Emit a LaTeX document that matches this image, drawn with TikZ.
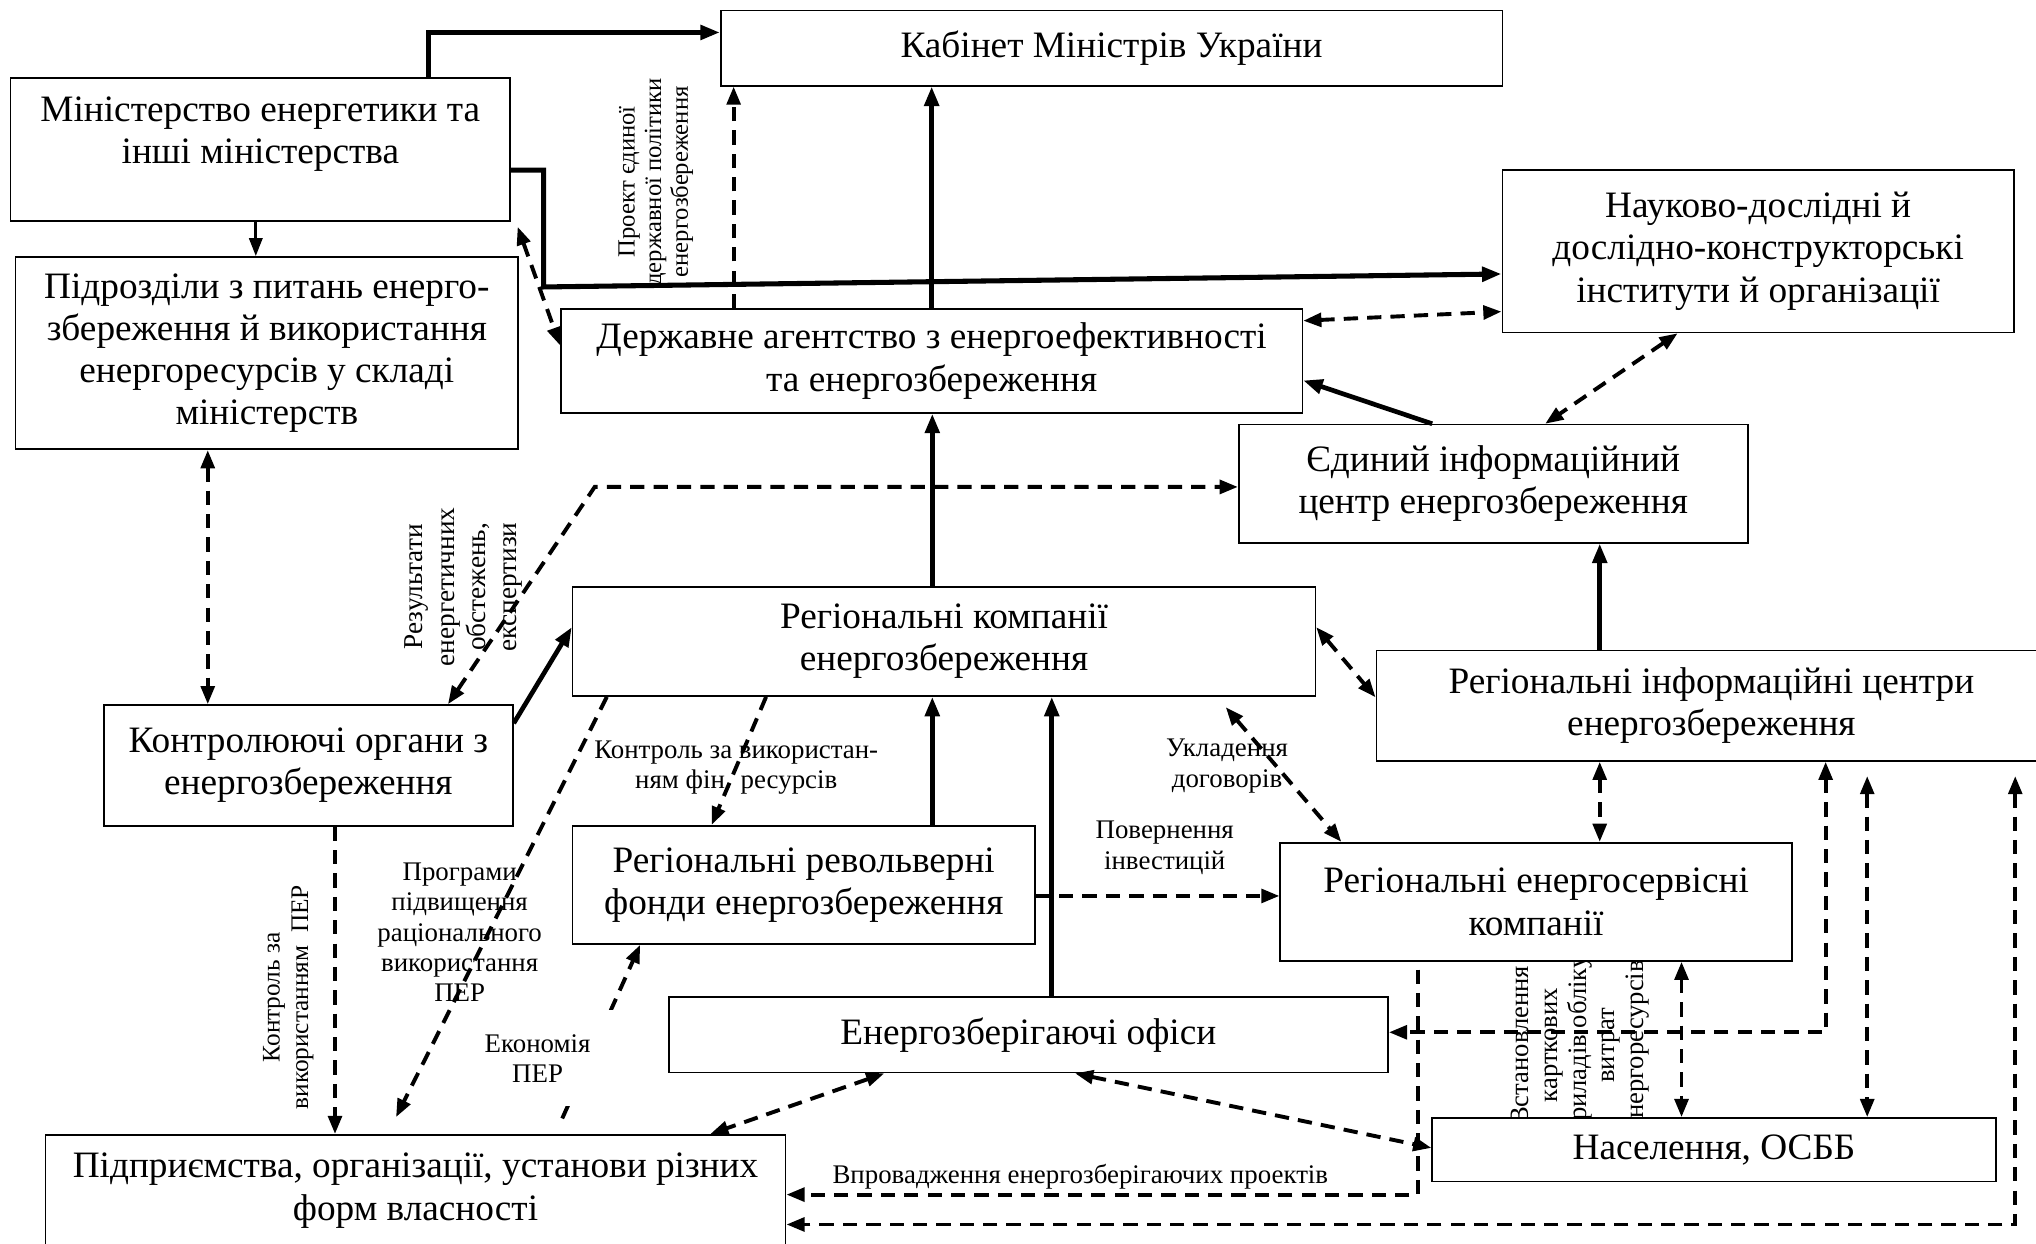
\documentclass[tikz,border=0pt]{standalone}
\usepackage{fontspec}
\setmainfont{Liberation Serif}
\usetikzlibrary{arrows.meta}
\newcommand\myboxfont{\fontsize{28.7}{32.5}\selectfont}
\newcommand\mylblfont{\fontsize{20.7}{23.3}\selectfont}
\begin{document}
\begin{tikzpicture}[x=1pt,y=-1pt,
  box/.style={draw, line width=1.3pt, fill=white, inner sep=0pt, align=center, font=\myboxfont},
  btxt/.style={inner sep=0pt, align=center, font=\myboxfont},
  lbl/.style={inner sep=1pt, align=center, font=\mylblfont},
  sarrow/.style={line width=3.6pt, -{Triangle[length=15pt,width=11pt]}},
  darrow/.style={line width=3pt, dash pattern=on 11pt off 7pt, -{Triangle[length=14pt,width=10.5pt]}},
  dboth/.style={line width=3pt, dash pattern=on 11pt off 7pt, {Triangle[length=14pt,width=10.5pt]}-{Triangle[length=14pt,width=10.5pt]}}
]
\useasboundingbox (0,0) rectangle (1568,958);
\fill[white] (0,0) rectangle (1568,958);

% label partly hidden by boxes
\node[lbl, rotate=90, font=\fontsize{20.5}{22}\selectfont] (lb4) at (1217,805) {Встановлення\\карткових\\приладів обліку\\витрат\\енергоресурсів};

% boxes
\node[box, minimum width=602pt, minimum height=58pt] (kmu) at (856,37) {Кабінет Міністрів України};
\node[box, minimum width=385pt, minimum height=110pt] (min) at (200.5,115) {};
\node[btxt] (minT) at (200.5,103) {Міністерство енергетики та\\інші міністерства};
\node[box, minimum width=387pt, minimum height=148pt] (pidr) at (205.5,272) {Підрозділи з питань енерго-\\збереження й використання\\енергоресурсів у складі\\міністерств};
\node[box, minimum width=571pt, minimum height=80pt] (agency) at (717.5,278) {Державне агентство з енергоефективності\\та енергозбереження};
\node[box, minimum width=394pt, minimum height=125pt] (ndi) at (1354,193.5) {Науково-дослідні й\\дослідно-конструкторські\\інститути й організації};
\node[box, minimum width=392pt, minimum height=91pt] (eic) at (1150,372.5) {Єдиний інформаційний\\центр енергозбереження};
\node[box, minimum width=572pt, minimum height=84pt] (rke) at (727,494) {Регіональні компанії\\енергозбереження};
\node[box, minimum width=516pt, minimum height=85pt] (ric) at (1318,543.5) {Регіональні інформаційні центри\\енергозбереження};
\node[box, minimum width=315pt, minimum height=93pt] (ko) at (237.5,589.5) {Контролюючі органи з\\енергозбереження};
\node[box, minimum width=356pt, minimum height=91pt] (rrf) at (619,681.5) {Регіональні револьверні\\фонди енергозбереження};
\node[box, minimum width=394pt, minimum height=91pt] (res) at (1183,694.5) {Регіональні енергосервісні\\компанії};
\node[box, minimum width=554pt, minimum height=58pt] (eo) at (792,797) {Енергозберігаючі офіси};
\node[box, minimum width=434pt, minimum height=49pt] (nas) at (1320,885.5) {Населення, ОСББ};
\node[box, minimum width=570pt, minimum height=86pt] (pidpr) at (320,917) {Підприємства, організації, установи різних\\форм власності};

% solid connectors
\draw[sarrow] ([xshift=129.5pt]min.north) |- ([yshift=12pt]kmu.west);
\draw[sarrow, line width=3.9pt] ([yshift=-16pt]min.east) -- ++(25,0) -- ++(0,90) -- ([yshift=-17.5pt]ndi.west);
\draw[sarrow] (agency.north) -- (agency.north |- kmu.south);
\draw[sarrow] ([xshift=-9pt]rke.north) coordinate (c1) -- (c1 |- agency.south);
\draw[sarrow] ([xshift=-47pt]eic.north) -- ([yshift=-15pt]agency.east);
\draw[sarrow] ([xshift=-86pt]ric.north) coordinate (c2) -- (c2 |- eic.south);
\draw[sarrow] ([yshift=32.5pt]ko.east) -- ([yshift=11pt]rke.west);
\draw[sarrow] ([xshift=99pt]rrf.north) coordinate (c3) -- (c3 |- rke.south);
\draw[sarrow] ([xshift=18pt]eo.north) coordinate (c4) -- (c4 |- rke.south);
\draw[line width=2.6pt, -{Triangle[length=14pt,width=10pt]}] ([xshift=-3.5pt]min.south) coordinate (c5) -- (c5 |- pidr.north);

% dashed connectors
\draw[darrow] ([xshift=-152.5pt]agency.north) coordinate (c6) -- (c6 |- kmu.south);
\draw[dboth] ([xshift=5pt,yshift=-4pt]min.south east) -- ([yshift=12pt]agency.west);
\draw[dboth] ([yshift=31pt]agency.east) -- ([yshift=-46.5pt]ndi.west);
\draw[dboth] ([xshift=-62pt]ndi.south) -- ([xshift=40pt]eic.north);
\draw[dboth] ([xshift=-45.5pt]pidr.south) coordinate (c7) -- (c7 |- ko.north);
\coordinate (bendA) at (458,375);
\draw[dboth] ([xshift=107.5pt]ko.north) -- (bendA) -- ([yshift=-2.5pt]eic.west);
\draw[darrow] ([xshift=27pt]rke.south west) -- ([xshift=-15pt,yshift=13pt]pidpr.north);
\draw[darrow] ([xshift=-137pt]rke.south) -- ([xshift=-71pt]rrf.north);
\draw[dboth] ([yshift=11pt]rke.east) -- ([yshift=6.5pt]ric.west);
\draw[dboth] ([xshift=217pt,yshift=-8pt]rke.south) -- ([xshift=-150pt]res.north);
\draw[dboth] ([xshift=-86pt]ric.south) coordinate (c8) -- (c8 |- res.north);
\draw[darrow] ([yshift=-8.5pt]rrf.east) coordinate (c9) -- (c9 -| res.west);
\draw[darrow] ([xshift=113pt,yshift=12pt]pidpr.north) -- ([xshift=-126pt]rrf.south);
\draw[dboth] ([xshift=-111pt]eo.south) -- ([xshift=227pt]pidpr.north);
\draw[dboth] ([xshift=36pt]eo.south) -- ([yshift=1.5pt]nas.west);
\draw[darrow] ([xshift=-91pt,yshift=-6pt]res.south) |- ([yshift=-3pt]pidpr.east);
\draw[dboth] ([xshift=88pt]ric.south) |- ([yshift=2pt]eo.east);
\draw[dboth] ([xshift=120pt,yshift=-11pt]ric.south) coordinate (c10) -- (c10 |- nas.north);
\draw[dboth] ([xshift=234pt,yshift=-11pt]ric.south) |- ([yshift=-26pt]pidpr.east);
\draw[dboth] ([xshift=112pt]res.south) coordinate (c11) -- (c11 |- nas.north);
\draw[darrow] ([xshift=20.5pt]ko.south) coordinate (c12) -- (c12 |- pidpr.north);

% labels
\node[lbl, rotate=90, font=\fontsize{19}{20.5}\selectfont] (lb1) at (505,140) {Проект єдиної\\державної політики\\енергозбереження};
\node[lbl, rotate=90, font=\fontsize{21}{24}\selectfont] (lb2) at (357,452) {Результати\\енергетичних\\обстежень,\\експертизи};
\node[lbl, rotate=90, font=\fontsize{19.5}{22}\selectfont] (lb3) at (222,768) {Контроль за\\використанням~~ПЕР};
\node[lbl] (lb5) at (567,591) {Контроль за використан-\\ням фін. ресурсів};
\node[lbl] (lb6) at (354,718) {Програми\\підвищення\\раціонального\\використання\\ПЕР};
\node[lbl] (lb7) at (945,590) {Укладення\\договорів};
\node[lbl] (lb8) at (897,653) {Повернення\\інвестицій};
\node[lbl, fill=white, minimum width=124pt, minimum height=74pt] (lb9) at (414,815) {Економія\\ПЕР};
\node[lbl] (lb10) at (832,906) {Впровадження енергозберігаючих проектів};
\end{tikzpicture}
\end{document}
